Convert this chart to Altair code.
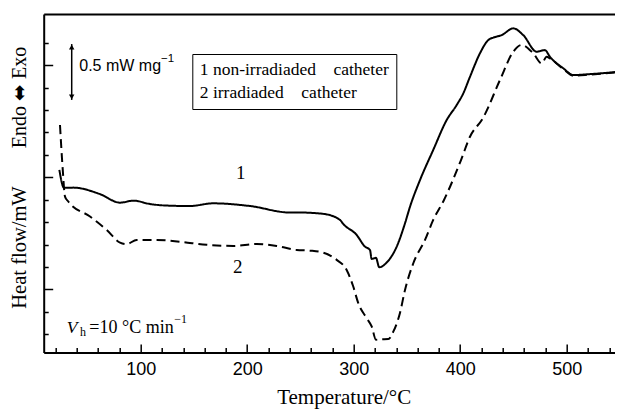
import altair as alt
import pandas as pd

# ---------------- data ----------------
SERIES = ["1 non-irradiaded \u00a0\u00a0\u00a0catheter", "2 irradiaded \u00a0\u00a0\u00a0catheter"]

T1 = [23.6, 28.0, 36.7, 61.8, 80.6, 93.1, 108.7, 124.4, 146.3, 167.9, 202.6, 240.2,
      249.6, 271.5, 287.1, 290.2, 302.8, 310.6, 315.3, 316.9, 320.9, 324.0, 331.0,
      340.4, 348.2, 352.9, 362.3, 374.7, 387.3, 396.7, 402.9, 409.2, 418.6, 426.4,
      431.1, 439.0, 449.9, 459.2, 471.8, 479.6, 484.3, 496.8, 506.2, 522.0, 550.0]
V1 = [7.33, 6.53, 6.54, 6.25, 5.87, 5.96, 5.81, 5.74, 5.72, 5.84, 5.72, 5.43,
      5.43, 5.37, 5.10, 4.92, 4.43, 3.91, 3.76, 3.36, 3.41, 2.99, 3.20,
      3.91, 4.95, 5.69, 6.88, 8.22, 9.55, 10.22, 10.74, 11.48, 12.53, 13.12,
      13.23, 13.34, 13.64, 13.34, 12.60, 12.67, 12.37, 11.86, 11.56, 11.60, 11.71]

T2 = [24.2, 26.8, 28.9, 32.0, 52.4, 68.1, 80.6, 86.9, 96.2, 115.0, 136.9, 162.0,
      187.0, 208.9, 227.7, 246.5, 259.0, 271.5, 284.0, 293.4, 299.6, 304.3, 312.2,
      316.9, 320.9, 324.7, 332.5, 337.2, 343.4, 348.2, 356.0, 367.0, 374.7, 384.8,
      400.8, 409.2, 421.4, 437.4, 449.9, 457.7, 468.6, 476.5, 481.2, 484.3, 496.8,
      506.2, 522.0, 550.0]
V2 = [9.33, 7.33, 6.14, 5.92, 5.25, 4.65, 4.09, 4.02, 4.21, 4.21, 4.13, 3.99,
      3.94, 4.03, 3.94, 3.76, 3.73, 3.64, 3.32, 2.87, 2.13, 1.39, 0.72,
      0.35, -0.24, -0.22, -0.21, 0.12, 0.94, 1.98, 3.17, 4.21, 5.10, 5.99,
      7.77, 8.81, 9.64, 11.34, 12.60, 12.90, 12.53, 12.08, 12.37, 12.30, 11.83,
      11.53, 11.58, 11.69]

X_DOMAIN = [8.9, 545.4]
Y_DOMAIN = [-0.81, 14.28]
MAJOR_X = [100, 200, 300, 400, 500]
MINOR_X = [20, 40, 60, 80, 120, 140, 160, 180, 220, 240, 260, 280, 320, 340, 360,
           380, 420, 440, 460, 480, 520, 540]
MAJOR_Y = [2, 7, 12]
MINOR_Y = [0, 1, 3, 4, 5, 6, 8, 9, 10, 11, 13]

# annotation anchors (data units)
LABEL1 = {"text": ["1"], "T": [193.9], "v": [7.19]}
LABEL2 = {"text": ["2"], "T": [191.1], "v": [2.99]}
VH_V = {"text": ["V"], "T": [30.5], "v": [0.07]}
VH_H = {"text": ["h"], "T": [43.0], "v": [-0.09]}
VH_REST = {"text": ["=10 \u00b0C min"], "T": [51.7], "v": [0.07]}
VH_SUP = {"text": ["\u22121"], "T": [131.5], "v": [0.50]}
BAR_TXT = {"text": ["0.5 mW mg"], "T": [42.3], "v": [11.75]}
BAR_SUP = {"text": ["\u22121"], "T": [119.1], "v": [12.15]}
BAR_RULE = {"T": [35.2], "v": [12.94], "v2": [10.45]}
BAR_TOP = {"T": [35.2], "v": [12.80]}
BAR_BOT = {"T": [35.2], "v": [10.59]}

# ---------------- layout ----------------
W = 571.3
H = 338.5
SERIF = "Liberation Serif"
SANS = "Liberation Sans"

df = pd.concat([
    pd.DataFrame({"T": T1, "v": V1, "series": SERIES[0]}),
    pd.DataFrame({"T": T2, "v": V2, "series": SERIES[1]}),
], ignore_index=True)

xs = alt.Scale(domain=X_DOMAIN, nice=False, zero=False)
ys = alt.Scale(domain=Y_DOMAIN, nice=False, zero=False)

lines = alt.Chart(df).mark_line(color="black", strokeWidth=2, interpolate="monotone",
                                clip=True).encode(
    x=alt.X("T:Q", scale=xs, axis=alt.Axis(
        orient="bottom", values=MAJOR_X, ticks=False, labelFont=SANS, labelFontSize=18,
        labelColor="black", labelPadding=8, domainColor="black", domainWidth=2, grid=False,
        title="Temperature/\u00b0C", titleFont=SERIF, titleFontSize=21, titleFontWeight="normal",
        titleColor="black", titleX=300, titleY=51, titleBaseline="alphabetic")),
    y=alt.Y("v:Q", scale=ys, axis=alt.Axis(
        orient="left", ticks=False, labels=False, domainColor="black", domainWidth=2, grid=False,
        title="Heat flow/mW", titleFont=SERIF, titleFontSize=20.5, titleFontWeight="normal",
        titleColor="black", titleX=-18, titleY=233, titleBaseline="alphabetic", titleAngle=270)),
    strokeDash=alt.StrokeDash("series:N", scale=alt.Scale(domain=SERIES, range=[[1, 0], [9, 5]]),
        legend=alt.Legend(title=None, orient="none", legendX=148.6, legendY=40,
                          labelFont=SERIF, labelFontSize=17.5, labelColor="black",
                          symbolSize=0, symbolStrokeWidth=0, symbolOpacity=0,
                          labelOffset={"expr": "-17"},
                          strokeColor="black", fillColor="white", padding=7, rowPadding=4,
                          labelLimit=0)),
)

minor = alt.Chart(df).mark_point(opacity=0).encode(
    x=alt.X("T:Q", scale=xs, axis=alt.Axis(orient="top", offset=-H, values=MINOR_X, labels=False,
                                           domain=False, grid=False, title=None, tickSize=5,
                                           tickWidth=1.5, tickColor="black")),
    y=alt.Y("v:Q", scale=ys, axis=alt.Axis(orient="right", offset=-W, values=MINOR_Y, labels=False,
                                           domain=False, grid=False, title=None, tickSize=4.5,
                                           tickWidth=1.5, tickColor="black")),
)

major = alt.Chart(df).mark_point(opacity=0).encode(
    x=alt.X("T:Q", scale=xs, axis=alt.Axis(orient="top", offset=-H, values=MAJOR_X, labels=False,
                                           domain=False, grid=False, title=None, tickSize=8.5,
                                           tickWidth=1.5, tickColor="black")),
    y=alt.Y("v:Q", scale=ys, axis=alt.Axis(orient="right", offset=-W, values=MAJOR_Y, labels=False,
                                           domain=False, grid=False, title=None, tickSize=9,
                                           tickWidth=1.5, tickColor="black")),
)

frame = alt.Chart(df).mark_point(opacity=0).encode(
    x=alt.X("T:Q", scale=xs, axis=alt.Axis(orient="top", labels=False, ticks=False, grid=False,
                                           title=None, domainColor="black", domainWidth=2)),
    y=alt.Y("v:Q", scale=ys, axis=alt.Axis(orient="left", labels=False, ticks=False, grid=False,
                                           domain=False, title="Endo \u2b0c Exo", titleFont=SERIF,
                                           titleFontSize=20, titleFontWeight="normal",
                                           titleColor="black", titleX=-18.5, titleY=83,
                                           titleBaseline="alphabetic", titleAngle=270)),
)


def txt(d, size, font=SERIF, style="normal", align="left", baseline="alphabetic"):
    return alt.Chart(pd.DataFrame(d)).mark_text(
        font=font, fontSize=size, fontStyle=style, align=align, baseline=baseline, color="black"
    ).encode(
        x=alt.X("T:Q", scale=xs, axis=None),
        y=alt.Y("v:Q", scale=ys, axis=None),
        text="text:N",
    )


t1 = txt(LABEL1, 19, align="center", baseline="middle")
t2 = txt(LABEL2, 19, align="center", baseline="middle")
vh1 = txt(VH_V, 17.5, style="italic")
vh2 = txt(VH_H, 12)
vh3 = txt(VH_REST, 18)
vh4 = txt(VH_SUP, 12)
b1 = txt(BAR_TXT, 16, font=SANS)
b2 = txt(BAR_SUP, 11.5, font=SANS)

bar_rule = alt.Chart(pd.DataFrame(BAR_RULE)).mark_rule(color="black", strokeWidth=1.5).encode(
    x=alt.X("T:Q", scale=xs, axis=None),
    y=alt.Y("v:Q", scale=ys, axis=None),
    y2="v2:Q",
)
bar_top = alt.Chart(pd.DataFrame(BAR_TOP)).mark_point(shape="triangle-up", filled=True, size=30,
                                                      color="black", opacity=1).encode(
    x=alt.X("T:Q", scale=xs, axis=None), y=alt.Y("v:Q", scale=ys, axis=None))
bar_bot = alt.Chart(pd.DataFrame(BAR_BOT)).mark_point(shape="triangle-down", filled=True, size=30,
                                                      color="black", opacity=1).encode(
    x=alt.X("T:Q", scale=xs, axis=None), y=alt.Y("v:Q", scale=ys, axis=None))

chart = alt.layer(
    frame, minor, major, lines, t1, t2, vh1, vh2, vh3, vh4, b1, b2, bar_rule, bar_top, bar_bot
).resolve_scale(x="shared", y="shared").resolve_axis(x="independent", y="independent").properties(
    width=W, height=H,
    autosize=alt.AutoSizeParams(type="none"),
    padding={"left": 35.7, "top": 6, "right": 0, "bottom": 56.5},
    background="white",
).configure_view(stroke=None)

chart.save("out.html", embed_options={"renderer": "svg", "actions": False})
